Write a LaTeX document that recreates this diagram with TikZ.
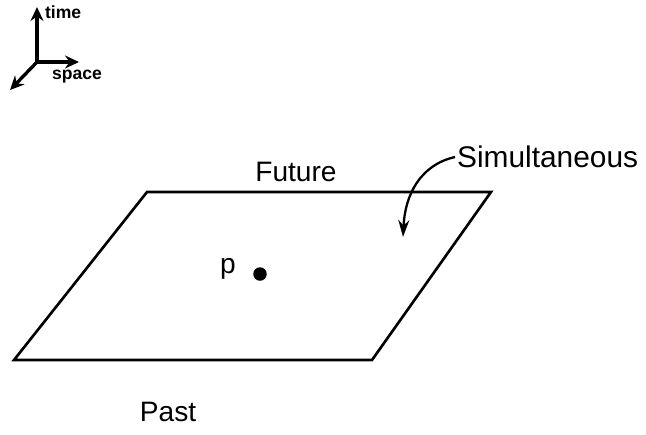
\documentclass[tikz,border=0pt]{standalone}
\usepackage{fontspec}
\setmainfont{Liberation Sans}
\usepackage{tikz}
\usetikzlibrary{positioning,arrows.meta}

\begin{document}
\begin{tikzpicture}[x=0.02cm, y=-0.02cm,
  plano/.style={draw=black, line width=1.5pt, line join=miter},
  etiqueta/.style={font=\fontsize{16}{18}\selectfont, inner sep=1pt},
  ejetexto/.style={font=\fontsize{10}{11}\selectfont\bfseries, inner sep=1pt},
  eje/.style={-{Stealth[length=2.8mm,width=2.6mm]}, line width=1.9pt},
  flecha/.style={-{Stealth[length=3.4mm,width=2.2mm]}, line width=1.3pt}
]
\useasboundingbox (0,0) rectangle (646,434);
% Ejes
\coordinate (o) at (37,62);
\coordinate (tiempo) at (37,7);
\coordinate (espacio) at (79,62);
\coordinate (fondo) at (10,90);
\draw[eje] (o) -- (tiempo);
\draw[eje] (o) -- (espacio);
\draw[eje] (o) -- (fondo);
\node[ejetexto, anchor=west] (tt) at (43,12) {time};
\node[ejetexto, anchor=north west] (st) at (50,68) {space};
% Plano simultaneo
\coordinate (a) at (147,192);
\coordinate (b) at (491,192);
\coordinate (c) at (372,360);
\coordinate (d) at (14,360);
\draw[plano] (a) -- (b) -- (c) -- (d) -- cycle;
% Punto p
\node[circle, fill=black, inner sep=0pt, minimum size=0.27cm] (p) at (260,274) {};
\node[etiqueta, left=0.3cm of p, yshift=0.1cm] (pt) {p};
% Etiquetas
\node[etiqueta] (fut) at (296,172) {Future};
\node[etiqueta] (pas) at (168,412) {Past};
\node[etiqueta, anchor=west, font=\fontsize{17}{19}\selectfont] (sim) at (455,157) {Simultaneous};
\coordinate (punta) at (403,237);
\draw[flecha] (sim.west) .. controls (420,165) and (405,195) .. (punta);
\end{tikzpicture}
\end{document}
